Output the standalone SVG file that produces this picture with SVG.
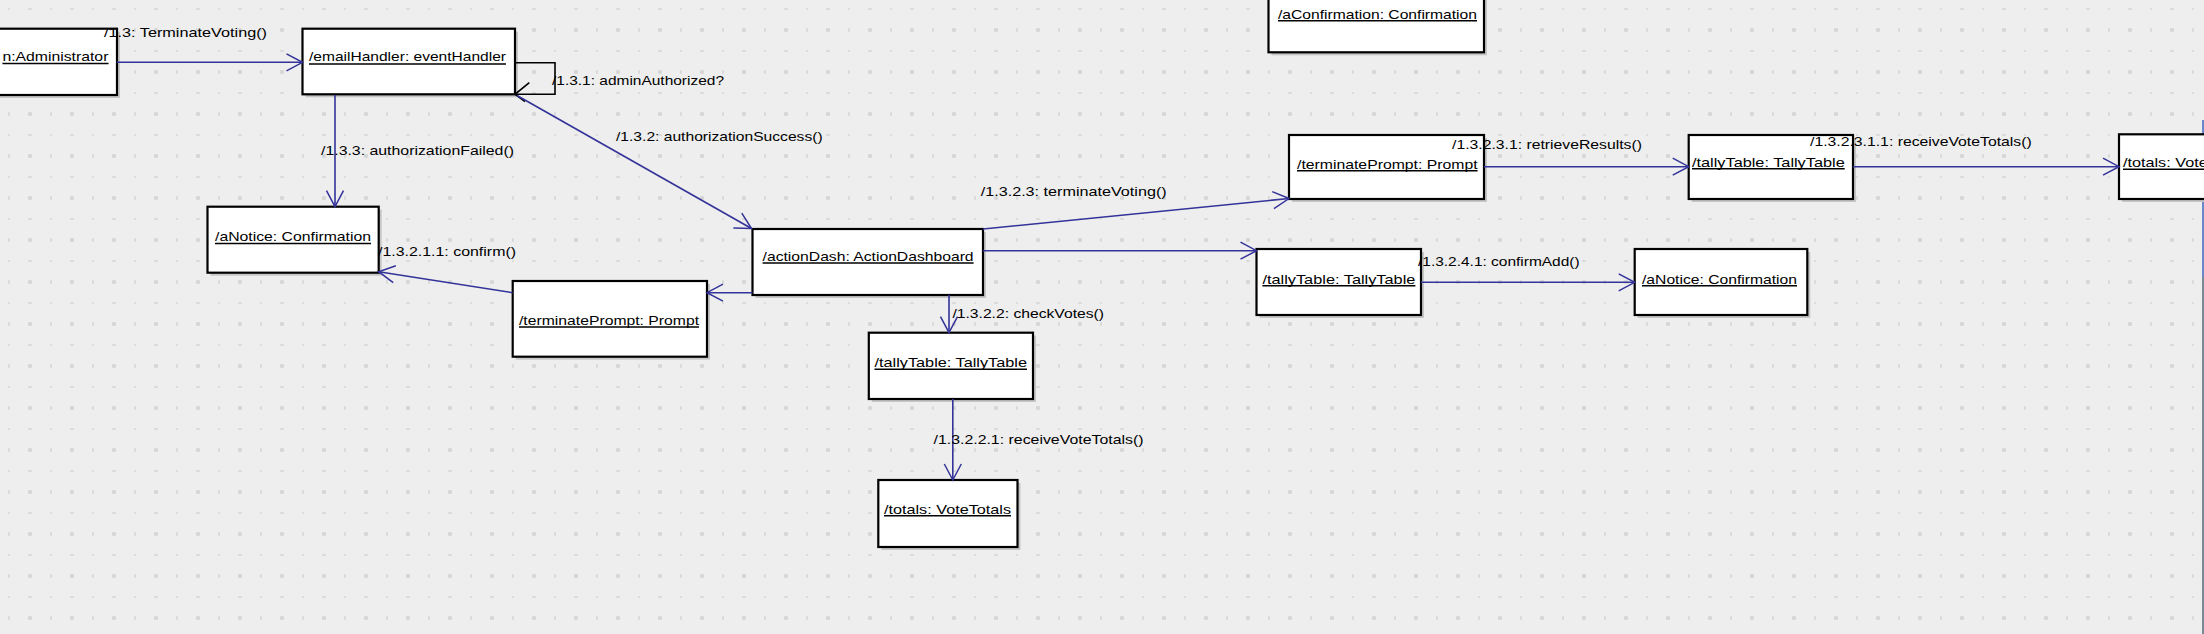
<svg xmlns="http://www.w3.org/2000/svg" width="2204" height="634" viewBox="0 0 2204 634">
<defs>
<pattern id="grid" width="42" height="42" patternUnits="userSpaceOnUse">
<rect x="8.2" y="8.2" width="1.6" height="1.6" fill="#d4d4d4"/>
<rect x="28.2" y="8.2" width="3.6" height="1.6" fill="#d4d4d4"/>
<rect x="8.2" y="28.2" width="1.6" height="3.6" fill="#d4d4d4"/>
<rect x="28.2" y="28.2" width="3.6" height="3.6" fill="#d4d4d4"/>
</pattern>
<marker id="arr" markerUnits="userSpaceOnUse" markerWidth="20" markerHeight="20" viewBox="0 0 20 20" refX="17" refY="10" orient="auto">
<path d="M1,1.5 L17,10 L1,18.5" fill="none" stroke="#333399" stroke-width="1.5"/>
</marker>
<style>
.box{fill:#ffffff;stroke:#000000;stroke-width:2.2}
.shd{fill:#c6c6c6}
.nt{font-family:"Liberation Sans",Arial,sans-serif;font-size:13px;fill:#000000}
.ul{stroke:#000000;stroke-width:1.6}
.lb{font-family:"Liberation Sans",Arial,sans-serif;font-size:13px;fill:#000000}
.cn{fill:none;stroke:#333399;stroke-width:1.6;marker-end:url(#arr)}
.loop{fill:none;stroke:#000000;stroke-width:1.6}
</style>
</defs>
<rect x="0" y="0" width="2204" height="634" fill="#eeeeee"/>
<rect x="0" y="0" width="2204" height="634" fill="url(#grid)"/>
<rect x="2202" y="120" width="2" height="157" fill="#6a88cc"/>
<rect x="2202" y="277" width="2" height="357" fill="#7c8996"/>

<g id="node-administrator">
<rect class="shd" x="-17" y="31.7" width="137" height="66.3"/>
<rect class="box" x="-20" y="28.7" width="137" height="66.3"/>
<text class="nt" x="2.4" y="61" textLength="106" lengthAdjust="spacingAndGlyphs">n:Administrator</text>
<line class="ul" x1="2.4" y1="63.5" x2="108.5" y2="63.5"/>
</g>

<g id="node-emailHandler">
<rect class="shd" x="305.5" y="31.7" width="212.5" height="65.6"/>
<rect class="box" x="302.5" y="28.7" width="212.5" height="65.6"/>
<text class="nt" x="309" y="61" textLength="197" lengthAdjust="spacingAndGlyphs">/emailHandler: eventHandler</text>
<line class="ul" x1="309" y1="64" x2="506" y2="64"/>
</g>

<g id="node-aConfirmation">
<rect class="shd" x="1271.5" y="-7" width="215.5" height="62.3"/>
<rect class="box" x="1268.5" y="-10" width="215.5" height="62.3"/>
<text class="nt" x="1278" y="18.5" textLength="199" lengthAdjust="spacingAndGlyphs">/aConfirmation: Confirmation</text>
<line class="ul" x1="1278" y1="20.8" x2="1477" y2="20.8"/>
</g>

<g id="node-aNotice-left">
<rect class="shd" x="210.5" y="209.7" width="171.2" height="66"/>
<rect class="box" x="207.5" y="206.7" width="171.2" height="66"/>
<text class="nt" x="215" y="241" textLength="156" lengthAdjust="spacingAndGlyphs">/aNotice: Confirmation</text>
<line class="ul" x1="215" y1="243.5" x2="371" y2="243.5"/>
</g>

<g id="node-terminatePrompt-left">
<rect class="shd" x="515.7" y="284" width="194.3" height="75.7"/>
<rect class="box" x="512.7" y="281" width="194.3" height="75.7"/>
<text class="nt" x="519" y="324.5" textLength="180" lengthAdjust="spacingAndGlyphs">/terminatePrompt: Prompt</text>
<line class="ul" x1="519" y1="327" x2="699" y2="327"/>
</g>

<g id="node-actionDash">
<rect class="shd" x="755.5" y="232" width="230.5" height="66"/>
<rect class="box" x="752.5" y="229" width="230.5" height="66"/>
<text class="nt" x="762.6" y="260.5" textLength="211" lengthAdjust="spacingAndGlyphs">/actionDash: ActionDashboard</text>
<line class="ul" x1="762.6" y1="263" x2="973.6" y2="263"/>
</g>

<g id="node-terminatePrompt-right">
<rect class="shd" x="1292" y="138" width="195" height="64"/>
<rect class="box" x="1289" y="135" width="195" height="64"/>
<text class="nt" x="1297" y="168.5" textLength="180.6" lengthAdjust="spacingAndGlyphs">/terminatePrompt: Prompt</text>
<line class="ul" x1="1297" y1="170.8" x2="1477.6" y2="170.8"/>
</g>

<g id="node-tallyTable-topright">
<rect class="shd" x="1691.7" y="138" width="164.3" height="64"/>
<rect class="box" x="1688.7" y="135" width="164.3" height="64"/>
<text class="nt" x="1692" y="166.5" textLength="152.7" lengthAdjust="spacingAndGlyphs">/tallyTable: TallyTable</text>
<line class="ul" x1="1692" y1="168.8" x2="1844.7" y2="168.8"/>
</g>

<g id="node-totals-right">
<rect class="shd" x="2122" y="137.3" width="100" height="64.7"/>
<rect class="box" x="2119" y="134.3" width="100" height="64.7"/>
<text class="nt" x="2123" y="167" textLength="127" lengthAdjust="spacingAndGlyphs">/totals: VoteTotals</text>
<line class="ul" x1="2123" y1="169.3" x2="2250" y2="169.3"/>
</g>

<g id="node-tallyTable-mid-right">
<rect class="shd" x="1259.5" y="252" width="164.5" height="66"/>
<rect class="box" x="1256.5" y="249" width="164.5" height="66"/>
<text class="nt" x="1262.4" y="283.5" textLength="153" lengthAdjust="spacingAndGlyphs">/tallyTable: TallyTable</text>
<line class="ul" x1="1262.4" y1="285.8" x2="1415.4" y2="285.8"/>
</g>

<g id="node-aNotice-right">
<rect class="shd" x="1637.7" y="252" width="172.6" height="66"/>
<rect class="box" x="1634.7" y="249" width="172.6" height="66"/>
<text class="nt" x="1642" y="283.5" textLength="155" lengthAdjust="spacingAndGlyphs">/aNotice: Confirmation</text>
<line class="ul" x1="1642" y1="285.8" x2="1797" y2="285.8"/>
</g>

<g id="node-tallyTable-mid">
<rect class="shd" x="871.8" y="335.7" width="164.2" height="66.3"/>
<rect class="box" x="868.8" y="332.7" width="164.2" height="66.3"/>
<text class="nt" x="874.5" y="367" textLength="152.5" lengthAdjust="spacingAndGlyphs">/tallyTable: TallyTable</text>
<line class="ul" x1="874.5" y1="369.3" x2="1027" y2="369.3"/>
</g>

<g id="node-totals-bottom">
<rect class="shd" x="881.3" y="483" width="139.2" height="67"/>
<rect class="box" x="878.3" y="480" width="139.2" height="67"/>
<text class="nt" x="884" y="513.5" textLength="127" lengthAdjust="spacingAndGlyphs">/totals: VoteTotals</text>
<line class="ul" x1="884" y1="515.8" x2="1011" y2="515.8"/>
</g>

<g id="connectors">
<path class="cn" d="M117,62.3 H302.5"/>
<path class="loop" d="M515,62.7 H555 V94.3 H515"/>
<path class="loop" d="M529.3,82.7 L515,94.3 L525,101.7"/>
<path class="cn" d="M517,95.5 L751.5,228.5"/>
<path class="cn" d="M335,95 V206.7"/>
<path class="cn" d="M752.5,292.7 H707"/>
<path class="cn" d="M512.7,292.7 L378.7,271.7"/>
<path class="cn" d="M983,229 L1289,198.5"/>
<path class="cn" d="M983,250.7 H1256.5"/>
<path class="cn" d="M949,295 V332.7"/>
<path class="cn" d="M952.8,399 V480"/>
<path class="cn" d="M1484,166.7 H1688.7"/>
<path class="cn" d="M1853,166.7 H2119"/>
<path class="cn" d="M1421,282.3 H1634.7"/>

<text class="lb" x="104" y="36.5" textLength="163" lengthAdjust="spacingAndGlyphs">/1.3: TerminateVoting()</text>
<text class="lb" x="552" y="84.5" textLength="172" lengthAdjust="spacingAndGlyphs">/1.3.1: adminAuthorized?</text>
<text class="lb" x="321" y="154.5" textLength="193" lengthAdjust="spacingAndGlyphs">/1.3.3: authorizationFailed()</text>
<text class="lb" x="616" y="140.5" textLength="206.6" lengthAdjust="spacingAndGlyphs">/1.3.2: authorizationSuccess()</text>
<text class="lb" x="980.7" y="196" textLength="186" lengthAdjust="spacingAndGlyphs">/1.3.2.3: terminateVoting()</text>
<text class="lb" x="1452" y="149" textLength="190" lengthAdjust="spacingAndGlyphs">/1.3.2.3.1: retrieveResults()</text>
<text class="lb" x="1810" y="146" textLength="221.7" lengthAdjust="spacingAndGlyphs">/1.3.2.3.1.1: receiveVoteTotals()</text>
<text class="lb" x="378" y="256" textLength="138" lengthAdjust="spacingAndGlyphs">/1.3.2.1.1: confirm()</text>
<text class="lb" x="952.4" y="318" textLength="151.6" lengthAdjust="spacingAndGlyphs">/1.3.2.2: checkVotes()</text>
<text class="lb" x="1418" y="266" textLength="161.6" lengthAdjust="spacingAndGlyphs">/1.3.2.4.1: confirmAdd()</text>
<text class="lb" x="933.5" y="444" textLength="210" lengthAdjust="spacingAndGlyphs">/1.3.2.2.1: receiveVoteTotals()</text>
</g>
</svg>
